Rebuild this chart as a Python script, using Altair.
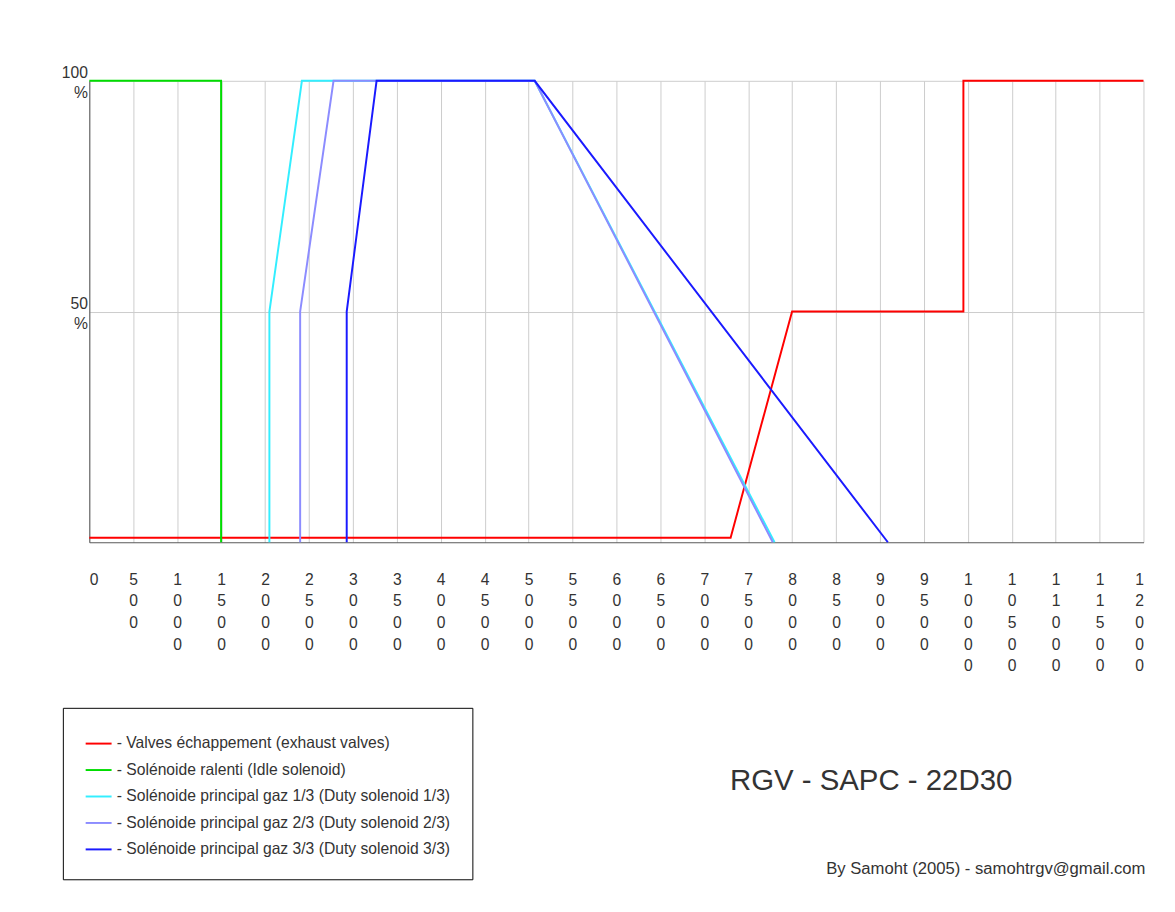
import altair as alt
import pandas as pd

series_names = [
    "- Valves échappement (exhaust valves)",
    "- Solénoide ralenti (Idle solenoid)",
    "- Solénoide principal gaz 1/3 (Duty solenoid 1/3)",
    "- Solénoide principal gaz 2/3 (Duty solenoid 2/3)",
    "- Solénoide principal gaz 3/3 (Duty solenoid 3/3)",
]
colors = ["#ff0000", "#00dd00", "#33eeff", "#8c8cff", "#1a1aff"]

red_x = [0, 7300, 8000, 9950, 9950, 12000]
red_y = [1, 1, 50, 50, 100, 100]
green_x = [0, 1500, 1500]
green_y = [100, 100, 0]
cyan_x = [2050, 2050, 2420, 5070, 7800]
cyan_y = [0, 50, 100, 100, 0]
purple_x = [2400, 2400, 2780, 5070, 7780]
purple_y = [0, 50, 100, 100, 0]
blue_x = [2930, 2930, 3270, 5070, 9090]
blue_y = [0, 50, 100, 100, 0]

rows = []
for name, xs, ys in zip(series_names,
                        [red_x, green_x, cyan_x, purple_x, blue_x],
                        [red_y, green_y, cyan_y, purple_y, blue_y]):
    for i, (a, b) in enumerate(zip(xs, ys)):
        rows.append({"series": name, "x": a, "y": b, "i": i})
df = pd.DataFrame(rows)

font = "Liberation Sans"

lines = (
    alt.Chart(df)
    .mark_line(strokeWidth=2)
    .encode(
        x=alt.X("x:Q", scale=alt.Scale(domain=[0, 12000], nice=False),
                axis=alt.Axis(values=list(range(0, 12001, 500)), title=None,
                              labelExpr="split(toString(datum.value), '')",
                              labelFontSize=16, labelLineHeight=22, labelPadding=30,
                              ticks=False, gridColor="#cccccc", domainColor="#555555",
                              labelColor="#333333", labelFont=font, labelAngle=0)),
        y=alt.Y("y:Q", scale=alt.Scale(domain=[0, 100], nice=False),
                axis=alt.Axis(values=[50, 100], title=None,
                              labelExpr="datum.value == 100 ? ['100', '%'] : ['50', '%']",
                              labelFontSize=16, labelLineHeight=20, ticks=False,
                              labelBaseline="bottom", gridColor="#cccccc",
                              domainColor="#555555", labelColor="#333333", labelFont=font)),
        color=alt.Color("series:N", scale=alt.Scale(domain=series_names, range=colors),
                        sort=series_names,
                        legend=alt.Legend(title=None, orient="none", legendX=-27, legendY=640,
                                          symbolType="stroke", symbolSize=700,
                                          symbolStrokeWidth=2, labelFontSize=16,
                                          labelFont=font, labelColor="#333333",
                                          strokeColor="black",
                                          padding=22, rowPadding=4, labelLimit=500,
                                          fillColor="white")),
        detail="series:N",
        order="i:Q",
    )
)

title = alt.Chart(pd.DataFrame({"t": ["RGV - SAPC - 22D30"]})).mark_text(
    fontSize=30, font=font, color="#333333", align="center"
).encode(text="t:N", x=alt.value(798), y=alt.value(715))

sig = alt.Chart(pd.DataFrame({"t": ["By Samoht (2005) - samohtrgv@gmail.com"]})).mark_text(
    fontSize=17, font=font, color="#333333", align="right"
).encode(text="t:N", x=alt.value(1078), y=alt.value(805))

chart = (
    alt.layer(lines, title, sig)
    .properties(width=1076, height=471, padding={"left": 54, "top": 49, "right": 20, "bottom": 20})
    .configure_view(stroke=None)
)

chart.save("out.html", embed_options={"renderer": "svg", "actions": False})
